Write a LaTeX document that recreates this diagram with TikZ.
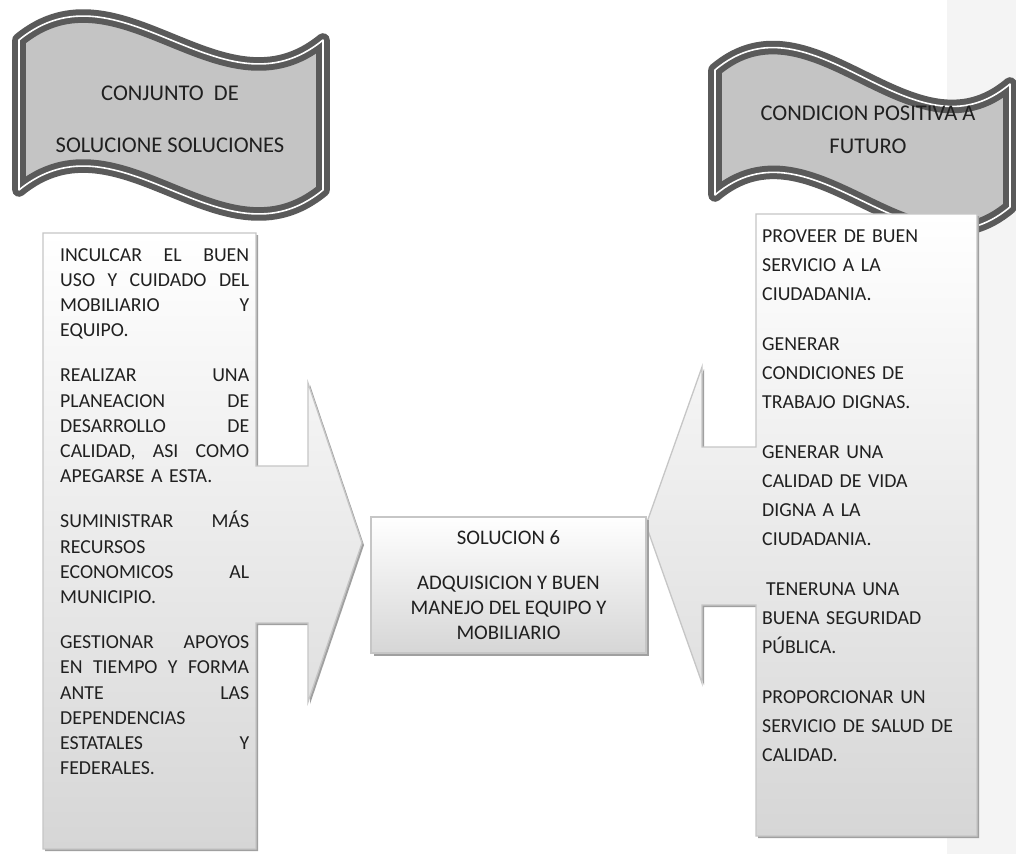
\documentclass[tikz,border=0pt]{standalone}
\usepackage{fontspec}
\setmainfont{Carlito}
\usetikzlibrary{positioning, shadows}
\definecolor{bandark}{HTML}{5A5A5A}
\definecolor{banfill}{HTML}{C4C4C4}
\definecolor{boxline}{HTML}{C6C6C6}
\definecolor{boxshadow}{HTML}{A0A0A0}
\definecolor{boxbottom}{HTML}{D6D6D6}
\definecolor{strip}{HTML}{F4F4F4}
\definecolor{ink}{HTML}{202020}
\tikzset{
    banner/.style={fill=banfill, draw=bandark, line width=6pt, double=white, double distance=1.6pt, line join=round},
    callout/.style={draw=boxline, line width=1.3pt, top color=white, bottom color=boxbottom},
    calloutshadow/.style={fill=boxshadow, shift={(2,2)}},
    bantext/.style={font=\fontsize{22.5}{25}\selectfont, text=ink, inner sep=0pt, anchor=base},
    coltext/.style={font=\fontsize{19.8}{25.2}\selectfont, text=ink, inner sep=0pt, anchor=base west, align=left},
    solbox/.style={draw=boxline, line width=1.3pt, top color=white, bottom color=boxbottom, minimum width=275pt, minimum height=136pt, align=center, text=ink, font=\fontsize{20.7}{25}\selectfont, drop shadow={shadow xshift=2.5pt, shadow yshift=-2.5pt, fill=boxshadow, opacity=1}}
}
\newcommand{\leftcallout}{(43,233) -- (256,233) -- (256,466) -- (308,466) -- (308,383) -- (362,543) -- (308,702) -- (308,623) -- (256,623) -- (256,849) -- (43,849) -- cycle}
\newcommand{\rightcallout}{(756,214) -- (977,214) -- (977,836) -- (756,836) -- (756,605) -- (702,605) -- (702,683) -- (646,525) -- (702,367) -- (702,447) -- (756,447) -- cycle}
\begin{document}
\begin{tikzpicture}[x=1pt, y=-1pt]
    \useasboundingbox (0,0) rectangle (1016,854);
    \fill[white] (0,0) rectangle (1016,854);
    \fill[strip] (947,0) rectangle (1016,854);

    \path[banner] (19,40) .. controls (120,-43) and (222,123) .. (323,40) -- (323,190)
        .. controls (222,273) and (120,107) .. (19,190) -- cycle;
    \path[banner] (715,70) .. controls (813,-13) and (912,167) .. (1010,84) -- (1010,207)
        .. controls (912,290) and (813,112) .. (715,195) -- cycle;
    \node[bantext] (conj) at (170,100) {CONJUNTO\ \ DE};
    \node[bantext] (sols) at (170,152) {SOLUCIONE SOLUCIONES};
    \node[bantext] (cond) at (868,120) {CONDICION POSITIVA A};
    \node[bantext] (futu) at (868,153) {FUTURO};

    \fill[calloutshadow] \leftcallout;
    \path[callout] \leftcallout;
    \fill[calloutshadow] \rightcallout;
    \path[callout] \rightcallout;

    \node[solbox] (sol) at (508.5,585) {SOLUCION 6\\[20pt]ADQUISICION Y BUEN\\MANEJO DEL EQUIPO Y\\MOBILIARIO};

    \node[coltext, text width=189pt] (acts) at (60,261) {%
        INCULCAR\hfill EL\hfill BUEN\\
        USO\hfill Y\hfill CUIDADO\hfill DEL\\
        MOBILIARIO\hfill Y\\
        EQUIPO.\\[20pt]
        REALIZAR\hfill UNA\\
        PLANEACION\hfill DE\\
        DESARROLLO\hfill DE\\
        CALIDAD,\hfill ASI\hfill COMO\\
        APEGARSE A ESTA.\\[20pt]
        SUMINISTRAR\hfill MÁS\\
        RECURSOS\\
        ECONOMICOS\hfill AL\\
        MUNICIPIO.\\[20pt]
        GESTIONAR\hfill APOYOS\\
        EN\hfill TIEMPO\hfill Y\hfill FORMA\\
        ANTE\hfill LAS\\
        DEPENDENCIAS\\
        ESTATALES\hfill Y\\
        FEDERALES.};
    \node[coltext, text width=205pt, font=\fontsize{19.8}{29}\selectfont] (conds) at (762,242) {%
        PROVEER DE BUEN\\
        SERVICIO A LA\\
        CIUDADANIA.\\[21pt]
        GENERAR\\
        CONDICIONES DE\\
        TRABAJO DIGNAS.\\[21pt]
        GENERAR UNA\\
        CALIDAD DE VIDA\\
        DIGNA A LA\\
        CIUDADANIA.\\[21pt]
        \hspace*{4pt}TENERUNA UNA\\
        BUENA SEGURIDAD\\
        PÚBLICA.\\[21pt]
        PROPORCIONAR UN\\
        SERVICIO DE SALUD DE\\
        CALIDAD.};
\end{tikzpicture}
\end{document}
